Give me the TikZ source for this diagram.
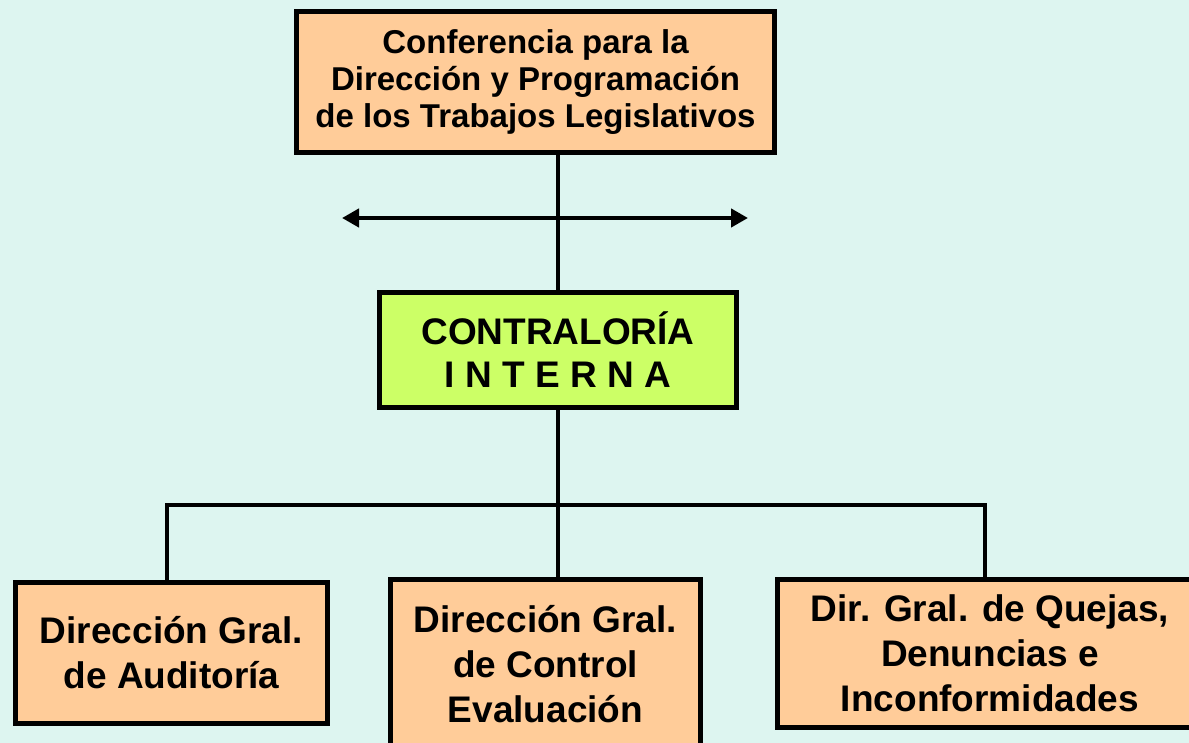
\documentclass[tikz,border=0pt]{standalone}
\usepackage{fontspec}
\setmainfont{Liberation Sans}
\usetikzlibrary{arrows.meta}
\definecolor{fondo}{RGB}{221,245,240}
\definecolor{durazno}{RGB}{255,204,153}
\definecolor{limon}{RGB}{204,255,102}

\begin{document}
\begin{tikzpicture}
          [x=1pt,y=-1pt,
           caja/.style={draw,line width=5pt,fill=durazno,align=center,inner sep=0pt,
                        font=\bfseries\fontsize{37}{45}\selectfont},
           linea/.style={line width=4.5pt}]

          \useasboundingbox (0,0) rectangle (1189,743);
          \clip (0,0) rectangle (1189,743);
          \fill[fondo] (0,0) rectangle (1189,743);

          \node[caja,minimum width=478pt,minimum height=141pt,
                font=\bfseries\fontsize{33}{37}\selectfont] (conf) at (535.5,82)
                {Conferencia para la\\Dirección y Programación\\de los Trabajos Legislativos};
          \node[caja,fill=limon,minimum width=357pt,minimum height=115pt,
                font=\bfseries\fontsize{37}{43}\selectfont] (cont) at (558,350)
                {CONTRALORÍA\\I N T E R N A};
          \node[caja,minimum width=312pt,minimum height=141pt] (aud) at (171.5,653)
                {Dirección Gral.\\de Auditoría};
          \node[caja,minimum width=310pt,minimum height=170pt] (ctrl) at (545.5,664.5)
                {Dirección Gral.\\de Control\\Evaluación};
          \node[caja,minimum width=425pt,minimum height=148pt] (quej) at (990,653.5)
                {Dir. Gral. de Quejas,\\Denuncias e\\Inconformidades};

          \coordinate (izq) at (342,218);
          \coordinate (der) at (748,218);
          \coordinate (bi) at (167,505);
          \coordinate (bd) at (985,505);

          \draw[linea] (conf.south -| cont.north) -- (cont.north);
          \draw[linea,{Triangle[length=17pt,width=18pt]}-{Triangle[length=17pt,width=18pt]}] (izq) -- (der);
          \draw[linea] (cont.south) -- (cont.south |- ctrl.north);
          \draw[linea] (bi |- aud.north) -- (bi) -- (bd) -- (bd |- quej.north);
        \end{tikzpicture}
\end{document}
